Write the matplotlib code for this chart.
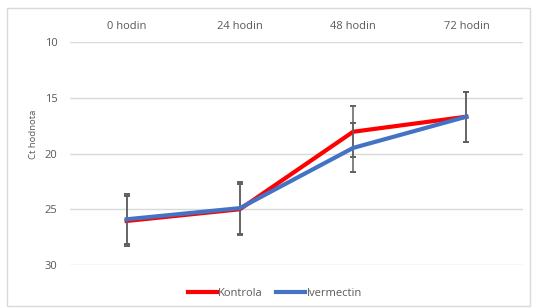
import matplotlib
matplotlib.use("Agg")
import matplotlib.pyplot as plt
from matplotlib.patches import Rectangle

categories = ["0 hodin", "24 hodin", "48 hodin", "72 hodin"]
kontrola = [26.05, 25.0, 18.05, 16.7]
kontrola_err = [2.25, 2.3, 2.3, 2.25]
ivermectin = [25.9, 24.9, 19.5, 16.7]
ivermectin_err = [2.25, 2.3, 2.2, 2.25]
yticks = [10, 15, 20, 25, 30]

plt.rcParams['font.family'] = ['Open Sans', 'DejaVu Sans']
W, H = 533, 308
fig = plt.figure(figsize=(W / 100, H / 100), dpi=100)
ax = fig.add_axes([70 / W, 1 - 265 / H, 453 / W, 223 / H])

x = list(range(len(categories)))
ecol = "#606060"
ax.errorbar(x, kontrola, yerr=kontrola_err, color="#FF0000", lw=3.0,
            ecolor=ecol, elinewidth=1.1, capsize=2.5, capthick=1.4,
            label="Kontrola", zorder=3)
ax.errorbar(x, ivermectin, yerr=ivermectin_err, color="#4472C4", lw=3.0,
            ecolor=ecol, elinewidth=1.1, capsize=2.5, capthick=1.4,
            label="Ivermectin", zorder=4)

ax.set_xlim(-0.5, 3.5)
ax.set_ylim(30, 10)
ax.set_yticks(yticks)
ax.set_xticks(x)
ax.set_xticklabels(categories)
ax.xaxis.tick_top()
ax.tick_params(axis='both', length=0, labelsize=8, colors="#595959")
ax.tick_params(axis='x', pad=7)
ax.tick_params(axis='y', pad=9)
ax.grid(axis='y', color="#D9D9D9", lw=1.0)
ax.set_axisbelow(True)
for s in ax.spines.values():
    s.set_visible(False)

fig.text(33 / W, 1 - 134 / H, "Ct hodnota", rotation=90, ha='center', va='center',
         fontsize=6.8, color="#595959")

handles, labels = ax.get_legend_handles_labels()
handles = [h[0] for h in handles]
leg = fig.legend(handles, labels, loc='center', bbox_to_anchor=(275 / W, 1 - 293 / H),
                 ncol=2, frameon=False, fontsize=8, handlelength=2.6,
                 handletextpad=0.15, columnspacing=1.2)
for t in leg.get_texts():
    t.set_color("#595959")

fig.patches.append(Rectangle((7 / W, 1 - 306 / H), 523 / W, 298 / H, transform=fig.transFigure,
                             fill=False, edgecolor="#D9D9D9", lw=1.0))

fig.savefig("out.png", dpi=100, facecolor="white")
